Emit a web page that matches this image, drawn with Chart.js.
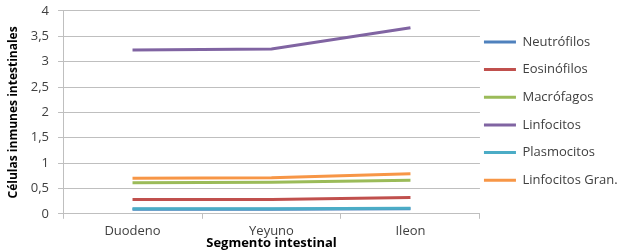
<!DOCTYPE html>
<html>
<head>
<meta charset="utf-8">
<script src="https://cdn.jsdelivr.net/npm/chart.js@4.4.0/dist/chart.umd.min.js"></script>
<style>
  html, body { margin: 0; padding: 0; background: #fff; }
  #wrap { width: 640px; height: 251px; }
</style>
</head>
<body>
<div id="wrap"><canvas id="cChart"></canvas></div>
<script>
// categories and series
var segmentos = ["Duodeno", "Yeyuno", "Ileon"];
var neutrofilos = [0.09, 0.09, 0.10];
var eosinofilos = [0.28, 0.28, 0.32];
var macrofagos = [0.61, 0.62, 0.66];
var linfocitos = [3.23, 3.25, 3.67];
var plasmocitos = [0.10, 0.10, 0.11];
var linfocitosGran = [0.70, 0.71, 0.79];
var yTicks = [0, 0.5, 1, 1.5, 2, 2.5, 3, 3.5, 4];

var FONT = "'Open Sans', sans-serif";

//one dataset per cell type, later ones drawn on top like in excel
//label as one-line array so the legend row height follows font.lineHeight
function serie(label, data, color, i) {
  return {
    label: [label],
    data: data,
    borderColor: color,
    backgroundColor: color,
    borderWidth: 3,
    pointRadius: 0,
    pointHoverRadius: 0,
    tension: 0,
    fill: false,
    order: 10 - i,
  };
}

var ctx = document.getElementById("cChart").getContext("2d");
var config = {
  type: "line",
  data: {
    labels: segmentos,
    datasets: [
      serie("Neutrófilos", neutrofilos, "#4F81BD", 0),
      serie("Eosinófilos", eosinofilos, "#C0504D", 1),
      serie("Macrófagos", macrofagos, "#9BBB59", 2),
      serie("Linfocitos", linfocitos, "#8064A2", 3),
      serie("Plasmocitos", plasmocitos, "#4BACC6", 4),
      serie("Linfocitos Gran.", linfocitosGran, "#F79646", 5),
    ],
  },
  options: {
    responsive: true,
    maintainAspectRatio: false,
    animation: false,
    layout: { padding: { top: 0, left: 6.4, right: 12.4, bottom: 0 } },
    plugins: {
      tooltip: { enabled: false },
      legend: {
        position: "right",
        fullSize: false,
        //empty title only pushes the legend rows down a bit
        title: {
          display: true,
          text: "",
          font: { size: 1, lineHeight: 1 },
          padding: { top: 7, bottom: 0 },
        },
        labels: {
          usePointStyle: true,
          pointStyle: "line",
          pointStyleWidth: 32,
          padding: 4,
          color: "#404040",
          font: { family: FONT, size: 13, lineHeight: 1.82 },
          sort: function (a, b) { return a.datasetIndex - b.datasetIndex; },
        },
      },
    },
    scales: {
      x: {
        offset: true,
        grid: {
          offset: true,
          drawOnChartArea: false,
          tickLength: 5,
          color: "#BFBFBF",
        },
        border: { color: "#BFBFBF" },
        ticks: {
          color: "#404040",
          font: { family: FONT, size: 13 },
          padding: 5,
          maxRotation: 0,
        },
        title: {
          display: true,
          text: "Segmento intestinal",
          color: "#000",
          font: { family: FONT, size: 13, weight: "bold" },
          padding: { top: -9, bottom: 0 },
        },
      },
      y: {
        min: 0,
        max: 4,
        afterBuildTicks: function (axis) {
          axis.ticks = yTicks.map(function (v) { return { value: v }; });
        },
        grid: { color: "#BFBFBF", tickLength: 5 },
        border: { color: "#BFBFBF" },
        ticks: {
          color: "#404040",
          font: { family: FONT, size: 13, lineHeight: 0.3 },
          padding: 9,
          callback: function (v) { return String(v).replace(".", ","); },
        },
        title: {
          display: true,
          text: "Células inmunes intestinales",
          color: "#000",
          font: { family: FONT, size: 12, weight: "bold" },
          padding: { top: 0, bottom: 1 },
        },
      },
    },
  },
};
var myChart = new Chart(ctx, config);
</script>
</body>
</html>
